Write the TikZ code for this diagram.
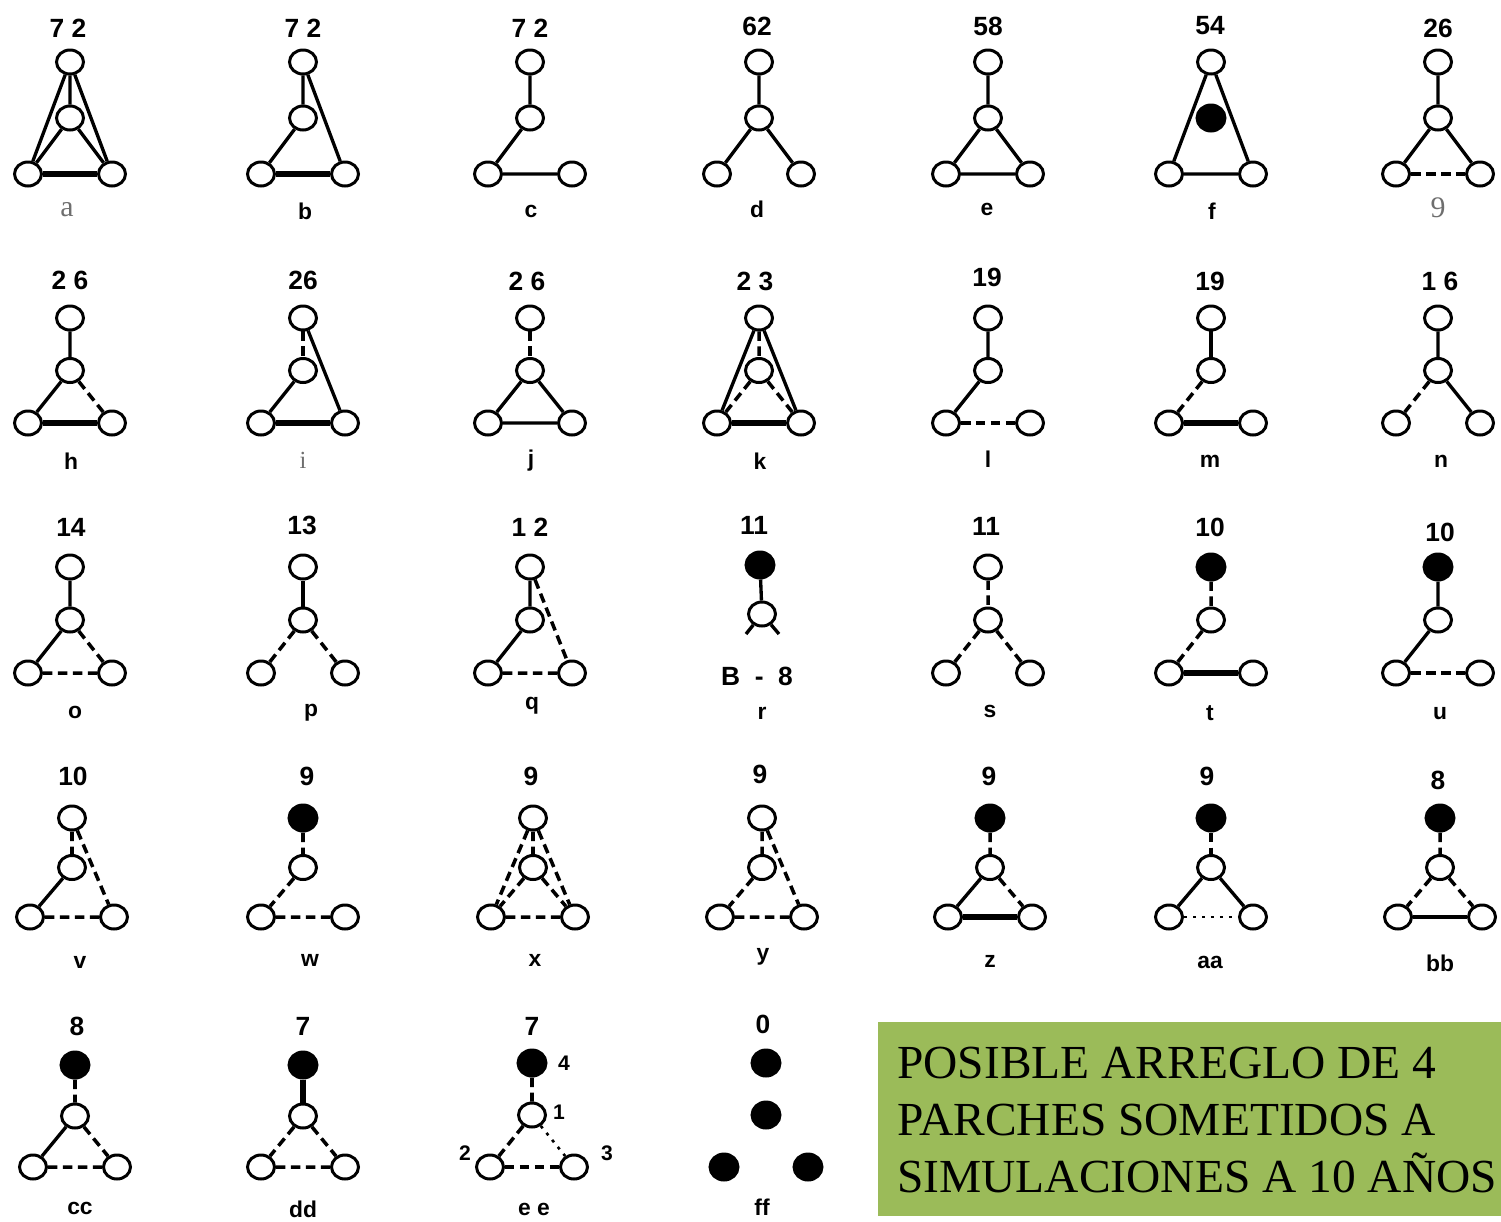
\documentclass[tikz,border=0pt]{standalone}
\usepackage{fontspec}
\setmainfont{Liberation Serif}
\setsansfont{Liberation Sans}
\usetikzlibrary{shapes.geometric}
\definecolor{notegreen}{HTML}{9BBB59}
\definecolor{oldgray}{HTML}{6E6E6E}

\tikzset{
  patch/.style={ellipse, draw, line width=1.7pt, fill=white, minimum width=0.54cm, minimum height=0.48cm, inner sep=0pt},
  full/.style={patch, fill=black, minimum width=0.56cm, minimum height=0.52cm},
  link/.style={line width=1.9pt},
  bold link/.style={line width=2.9pt},
  gap link/.style={line width=2pt, dash pattern=on 0.19cm off 0.11cm},
  dot link/.style={line width=1.5pt, dash pattern=on 0.06cm off 0.12cm},
  count/.style={font=\sffamily\bfseries\fontsize{15}{15}\selectfont},
  tag/.style={font=\sffamily\bfseries\fontsize{13}{13}\selectfont},
  oldtag/.style={font=\rmfamily\fontsize{17}{17}\selectfont, text=oldgray},
  num/.style={font=\sffamily\bfseries\fontsize{12}{12}\selectfont}
}

% four patches of one arrangement: top, middle, left, right
\newcommand{\patchset}[7]{%
  \node[#5] (#1T) at (#2,#3) {};
  \node[#6] (#1M) at (#2,{(#3+#4)/2}) {};
  \node[#7] (#1L) at ({#2-42},#4) {};
  \node[#7] (#1R) at ({#2+42},#4) {};
}

\begin{document}
\begin{tikzpicture}[x=0.02cm, y=-0.02cm]
  \useasboundingbox (0,0) rectangle (1501,1221);

  % row 1
  \patchset{a}{70}{62}{174}{patch}{patch}{patch}
  \patchset{b}{303}{62}{174}{patch}{patch}{patch}
  \patchset{c}{530}{62}{174}{patch}{patch}{patch}
  \patchset{d}{759}{62}{174}{patch}{patch}{patch}
  \patchset{e}{988}{62}{174}{patch}{patch}{patch}
  \patchset{f}{1211}{62}{174}{patch}{full}{patch}
  \patchset{g}{1438}{62}{174}{patch}{patch}{patch}
  \node[count] (aN) at (68,28) {7 2};
  \node[count] (bN) at (303,28) {7 2};
  \node[count] (cN) at (530,28) {7 2};
  \node[count] (dN) at (757,26) {62};
  \node[count] (eN) at (988,26) {58};
  \node[count] (fN) at (1210,26) {54};
  \node[count] (gN) at (1438,28) {26};
  \node[oldtag] (aK) at (67,210) {a};
  \node[tag] (bK) at (305,211) {b};
  \node[tag] (cK) at (531,211) {c};
  \node[tag] (dK) at (757,209) {d};
  \node[tag] (eK) at (987,209) {e};
  \node[tag] (fK) at (1212,211) {f};
  \node[oldtag] (gK) at (1438,208) {9};
  \draw[link] (aT) -- (aM) (aT) -- (aL) (aT) -- (aR) (aM) -- (aL) (aM) -- (aR);
  \draw[bold link] (aL) -- (aR);
  \draw[link] (bT) -- (bM) (bT) -- (bR) (bM) -- (bL);
  \draw[bold link] (bL) -- (bR);
  \draw[link] (cT) -- (cM) (cM) -- (cL) (cL) -- (cR);
  \draw[link] (dT) -- (dM) (dM) -- (dL) (dM) -- (dR);
  \draw[link] (eT) -- (eM) (eM) -- (eL) (eM) -- (eR) (eL) -- (eR);
  \draw[link] (fT) -- (fL) (fT) -- (fR) (fL) -- (fR);
  \draw[link] (gT) -- (gM) (gM) -- (gL) (gM) -- (gR);
  \draw[gap link] (gL) -- (gR);

  % row 2
  \patchset{h}{70}{318}{423}{patch}{patch}{patch}
  \patchset{i}{303}{318}{423}{patch}{patch}{patch}
  \patchset{j}{530}{318}{423}{patch}{patch}{patch}
  \patchset{k}{759}{318}{423}{patch}{patch}{patch}
  \patchset{l}{988}{318}{423}{patch}{patch}{patch}
  \patchset{m}{1211}{318}{423}{patch}{patch}{patch}
  \patchset{n}{1438}{318}{423}{patch}{patch}{patch}
  \node[count] (hN) at (70,280) {2 6};
  \node[count] (iN) at (303,280) {26};
  \node[count] (jN) at (527,281) {2 6};
  \node[count] (kN) at (755,281) {2 3};
  \node[count] (lN) at (987,277) {19};
  \node[count] (mN) at (1210,281) {19};
  \node[count] (nN) at (1440,281) {1 6};
  \node[tag] (hK) at (71,461) {h};
  \node[oldtag, font=\rmfamily\fontsize{14}{14}\selectfont] (iK) at (303,460) {i};
  \node[tag] (jK) at (531,461) {j};
  \node[tag] (kK) at (760,461) {k};
  \node[tag] (lK) at (988,459) {l};
  \node[tag] (mK) at (1210,461) {m};
  \node[tag] (nK) at (1441,461) {n};
  \draw[link] (hT) -- (hM) (hM) -- (hL);
  \draw[gap link] (hM) -- (hR);
  \draw[bold link] (hL) -- (hR);
  \draw[gap link] (iT) -- (iM);
  \draw[link] (iT) -- (iR) (iM) -- (iL);
  \draw[bold link] (iL) -- (iR);
  \draw[gap link] (jT) -- (jM);
  \draw[link] (jM) -- (jL) (jM) -- (jR) (jL) -- (jR);
  \draw[gap link] (kT) -- (kM) (kM) -- (kL) (kM) -- (kR);
  \draw[link] (kT) -- (kL) (kT) -- (kR);
  \draw[bold link] (kL) -- (kR);
  \draw[link] (lT) -- (lM) (lM) -- (lL);
  \draw[gap link] (lL) -- (lR);
  \draw[link] (mT) -- (mM);
  \draw[gap link] (mM) -- (mL);
  \draw[bold link] (mL) -- (mR);
  \draw[link] (nT) -- (nM) (nM) -- (nR);
  \draw[gap link] (nM) -- (nL);

  % row 3
  \patchset{o}{70}{567}{673}{patch}{patch}{patch}
  \patchset{p}{303}{567}{673}{patch}{patch}{patch}
  \patchset{q}{530}{567}{673}{patch}{patch}{patch}
  \node[full] (rT) at (760,565) {};
  \node[patch] (rM) at (762,614) {};
  \coordinate (rA) at (746,634);
  \coordinate (rB) at (779,634);
  \patchset{s}{988}{567}{673}{patch}{patch}{patch}
  \patchset{t}{1211}{567}{673}{full}{patch}{patch}
  \patchset{u}{1438}{567}{673}{full}{patch}{patch}
  \node[count] (oN) at (71,527) {14};
  \node[count] (pN) at (302,525) {13};
  \node[count] (qN) at (530,527) {1 2};
  \node[count] (rN) at (754,525) {11};
  \node[count] (sN) at (986,526) {11};
  \node[count] (tN) at (1210,527) {10};
  \node[count] (uN) at (1440,532) {10};
  \node[count] (rX) at (757,676) {B \ - \ 8};
  \node[tag] (oK) at (75,712) {o};
  \node[tag] (pK) at (311,713) {p};
  \node[tag] (qK) at (532,706) {q};
  \node[tag] (rK) at (762,713) {r};
  \node[tag] (sK) at (990,711) {s};
  \node[tag] (tK) at (1210,713) {t};
  \node[tag] (uK) at (1440,714) {u};
  \draw[link] (oT) -- (oM) (oM) -- (oL);
  \draw[gap link] (oM) -- (oR) (oL) -- (oR);
  \draw[link] (pT) -- (pM);
  \draw[gap link] (pM) -- (pL) (pM) -- (pR);
  \draw[link] (qT) -- (qM) (qM) -- (qL);
  \draw[gap link] (qT) -- (qR) (qL) -- (qR);
  \draw[link] (rT) -- (rM);
  \draw[link] (rM) -- (rA) (rM) -- (rB);
  \draw[gap link] (sT) -- (sM) (sM) -- (sL) (sM) -- (sR);
  \draw[gap link] (tT) -- (tM) (tM) -- (tL);
  \draw[bold link] (tL) -- (tR);
  \draw[link] (uT) -- (uM) (uM) -- (uL);
  \draw[gap link] (uL) -- (uR);

  % row 4
  \patchset{v}{72}{818}{917}{patch}{patch}{patch}
  \patchset{w}{303}{818}{917}{full}{patch}{patch}
  \patchset{x}{533}{818}{917}{patch}{patch}{patch}
  \patchset{y}{762}{818}{917}{patch}{patch}{patch}
  \patchset{z}{990}{818}{917}{full}{patch}{patch}
  \patchset{aa}{1211}{818}{917}{full}{patch}{patch}
  \patchset{bb}{1440}{818}{917}{full}{patch}{patch}
  \node[count] (vN) at (73,776) {10};
  \node[count] (wN) at (307,776) {9};
  \node[count] (xN) at (531,776) {9};
  \node[count] (yN) at (760,774) {9};
  \node[count] (zN) at (989,776) {9};
  \node[count] (aaN) at (1207,776) {9};
  \node[count] (bbN) at (1438,780) {8};
  \node[tag] (vK) at (80,962) {v};
  \node[tag] (wK) at (310,960) {w};
  \node[tag] (xK) at (535,960) {x};
  \node[tag] (yK) at (763,957) {y};
  \node[tag] (zK) at (990,961) {z};
  \node[tag] (aaK) at (1210,962) {aa};
  \node[tag] (bbK) at (1440,963) {bb};
  \draw[gap link] (vT) -- (vM) (vT) -- (vR) (vL) -- (vR);
  \draw[link] (vM) -- (vL);
  \draw[gap link] (wT) -- (wM) (wM) -- (wL) (wL) -- (wR);
  \draw[gap link] (xT) -- (xM) (xT) -- (xL) (xT) -- (xR) (xM) -- (xL) (xM) -- (xR) (xL) -- (xR);
  \draw[gap link] (yT) -- (yM) (yT) -- (yR) (yM) -- (yL) (yL) -- (yR);
  \draw[gap link] (zT) -- (zM) (zM) -- (zR);
  \draw[link] (zM) -- (zL);
  \draw[bold link] (zL) -- (zR);
  \draw[gap link] (aaT) -- (aaM);
  \draw[link] (aaM) -- (aaL) (aaM) -- (aaR);
  \draw[dot link] (aaL) -- (aaR);
  \draw[gap link] (bbT) -- (bbM) (bbM) -- (bbL) (bbM) -- (bbR);
  \draw[link] (bbL) -- (bbR);

  % row 5
  \patchset{cc}{75}{1065}{1167}{full}{patch}{patch}
  \patchset{dd}{303}{1065}{1167}{full}{patch}{patch}
  \patchset{ee}{532}{1063}{1167}{full}{patch}{patch}
  \patchset{ff}{766}{1063}{1167}{full}{full}{full}
  \node[count] (ccN) at (77,1026) {8};
  \node[count] (ddN) at (303,1026) {7};
  \node[count] (eeN) at (532,1026) {7};
  \node[count] (ffN) at (763,1024) {0};
  \node[tag] (ccK) at (80,1208) {cc};
  \node[tag] (ddK) at (303,1209) {dd};
  \node[tag] (eeK) at (534,1209) {e e};
  \node[tag] (ffK) at (762,1207) {ff};
  \node[num] (ee4) at (564,1063) {4};
  \node[num] (ee1) at (559,1112) {1};
  \node[num] (ee2) at (465,1153) {2};
  \node[num] (ee3) at (607,1153) {3};
  \draw[gap link] (ccT) -- (ccM) (ccM) -- (ccR) (ccL) -- (ccR);
  \draw[link] (ccM) -- (ccL);
  \draw[bold link] (ddT) -- (ddM);
  \draw[gap link] (ddM) -- (ddL) (ddM) -- (ddR) (ddL) -- (ddR);
  \draw[gap link] (eeT) -- (eeM) (eeM) -- (eeL);
  \draw[dot link] (eeM) -- (eeR);
  \draw[gap link, line width=2.8pt] (eeL) -- (eeR);

  % note box
  \fill[notegreen] (878,1022) rectangle (1501,1216);
  \node[anchor=west, align=left, inner sep=0pt, font=\rmfamily\fontsize{27}{32.4}\selectfont] (note) at (897,1120)
    {POSIBLE ARREGLO DE 4\\PARCHES SOMETIDOS A\\SIMULACIONES A 10 AÑOS};
\end{tikzpicture}
\end{document}
